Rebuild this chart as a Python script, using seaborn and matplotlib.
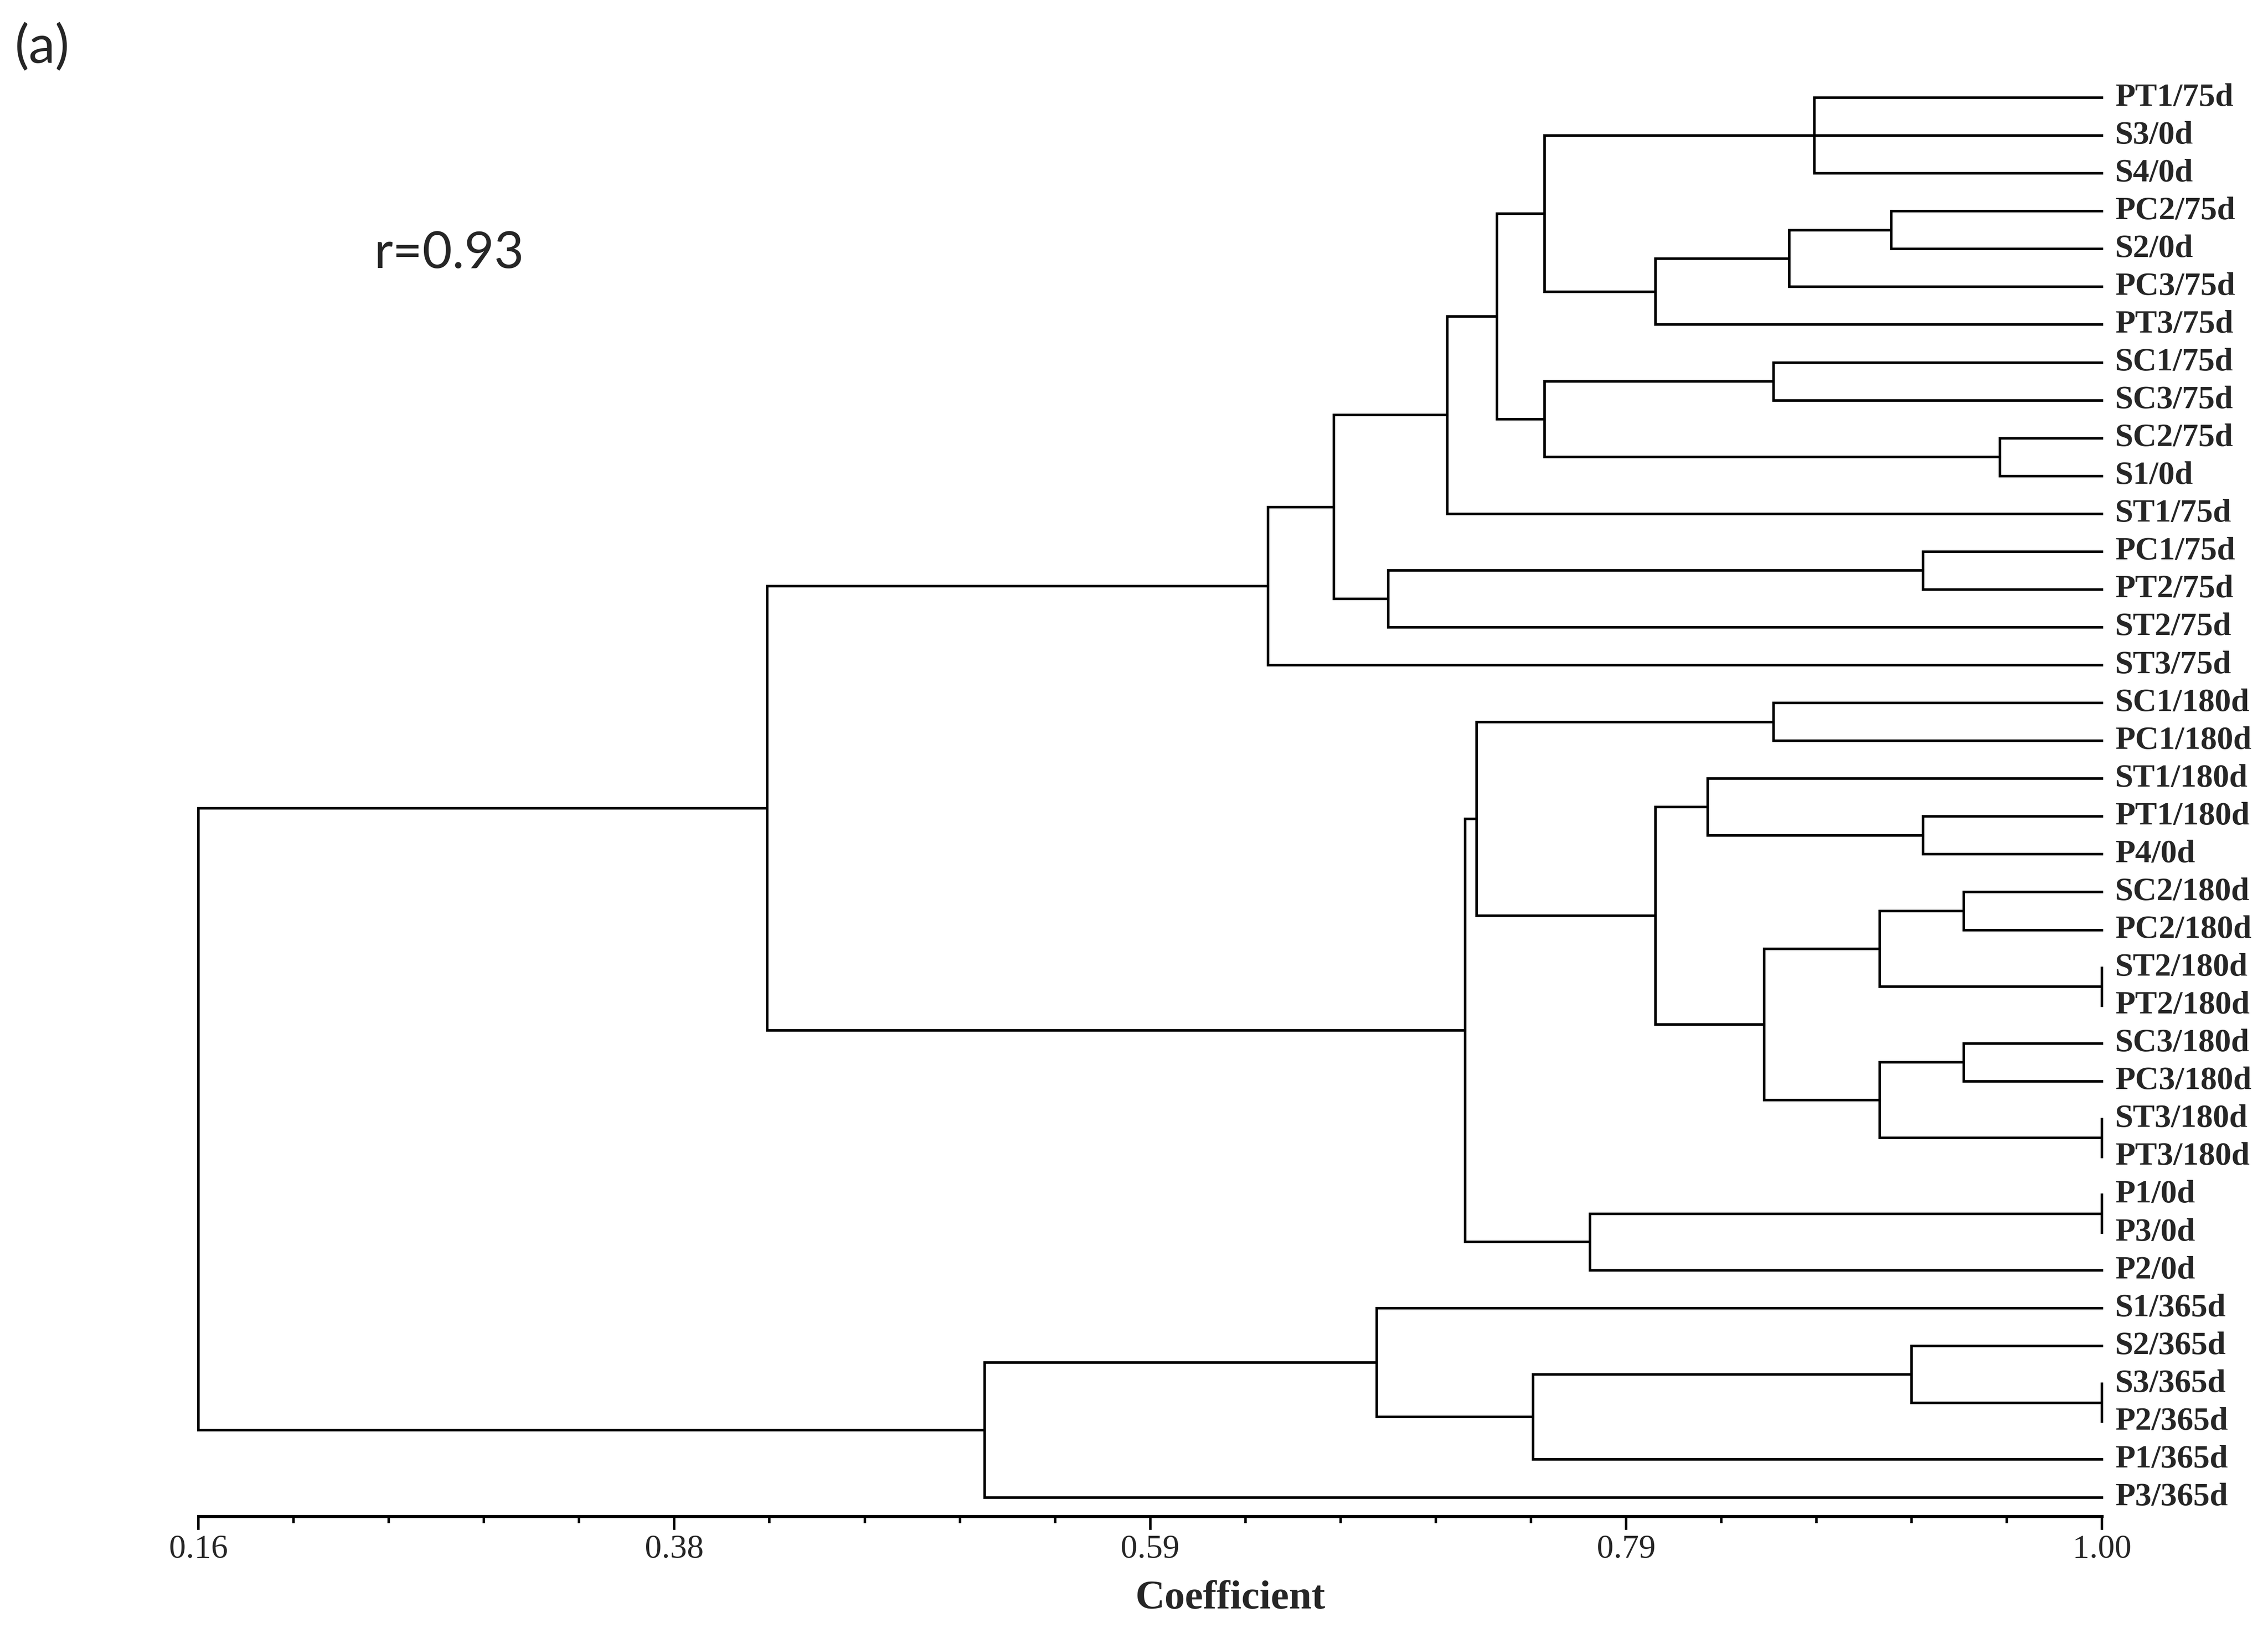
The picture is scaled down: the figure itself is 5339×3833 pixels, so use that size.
import matplotlib
matplotlib.use("Agg")
import matplotlib.pyplot as plt
from matplotlib.ticker import FixedLocator, AutoMinorLocator
import pandas as pd
import seaborn as sns

# leaves from top to bottom
leaves = ["PT1/75d", "S3/0d", "S4/0d", "PC2/75d", "S2/0d", "PC3/75d", "PT3/75d",
          "SC1/75d", "SC3/75d", "SC2/75d", "S1/0d", "ST1/75d", "PC1/75d", "PT2/75d",
          "ST2/75d", "ST3/75d", "SC1/180d", "PC1/180d", "ST1/180d", "PT1/180d",
          "P4/0d", "SC2/180d", "PC2/180d", "ST2/180d", "PT2/180d", "SC3/180d",
          "PC3/180d", "ST3/180d", "PT3/180d", "P1/0d", "P3/0d", "P2/0d",
          "S1/365d", "S2/365d", "S3/365d", "P2/365d", "P1/365d", "P3/365d"]

# merges: children (leaf index, or 38 + merge index) and similarity coefficient
merge_children = [[0, 1, 2], [3, 4], [39, 5], [40, 6], [38, 41],
                  [7, 8], [9, 10], [43, 44], [42, 45], [46, 11],
                  [12, 13], [48, 14], [47, 49], [50, 15],
                  [16, 17], [19, 20], [18, 53], [21, 22], [23, 24], [55, 56],
                  [25, 26], [27, 28], [58, 59], [57, 60], [54, 61], [52, 62],
                  [29, 30], [64, 31], [63, 65], [51, 66],
                  [34, 35], [33, 68], [69, 36], [32, 70], [71, 37], [67, 72]]
merge_heights = [0.873, 0.907, 0.862, 0.803, 0.754,
                 0.855, 0.955, 0.754, 0.733, 0.711,
                 0.921, 0.685, 0.661, 0.632,
                 0.855, 0.921, 0.826, 0.939, 1.00, 0.902,
                 0.939, 1.00, 0.902, 0.851, 0.803, 0.724,
                 1.00, 0.774, 0.719, 0.411,
                 1.00, 0.916, 0.749, 0.680, 0.507, 0.16]

tick_values = [0.16, 0.37, 0.58, 0.79, 1.00]
tick_labels = ["0.16", "0.38", "0.59", "0.79", "1.00"]

# build dendrogram segments
n = len(leaves)
pos_y = {i: i for i in range(n)}
pos_x = {i: 1.0 for i in range(n)}
rows = []
seg = 0
for k, (ch, h) in enumerate(zip(merge_children, merge_heights)):
    ys = [pos_y[c] for c in ch]
    rows += [(seg, h, min(ys)), (seg, h, max(ys))]
    seg += 1
    for c in ch:
        if pos_x[c] != h:
            rows += [(seg, h, pos_y[c]), (seg, pos_x[c], pos_y[c])]
            seg += 1
    pos_y[n + k] = (min(ys) + max(ys)) / 2
    pos_x[n + k] = h
df = pd.DataFrame(rows, columns=["seg", "x", "y"])

sns.set_style("ticks")
fig = plt.figure(figsize=(5339 / 300, 3833 / 300), dpi=300)
ax = fig.add_axes([0.0875, 0.0686, 0.8393, 0.883])

sns.lineplot(data=df, x="x", y="y", units="seg", estimator=None, sort=False,
             color="black", linewidth=1.45, ax=ax)
for line in ax.lines:
    line.set_clip_on(False)
    line.set_solid_capstyle("projecting")

for i, name in enumerate(leaves):
    ax.annotate(name, (1.0, i), xytext=(7.5, 0), textcoords="offset points",
                ha="left", va="center", fontsize=18.5, fontweight="bold",
                family="Liberation Serif", annotation_clip=False)

ax.set_xlim(0.16, 1.00)
ax.set_ylim(n - 0.5, -0.5)
ax.set_yticks([])
ax.set_xlabel("")
ax.set_ylabel("")
for s in ["left", "top", "right"]:
    ax.spines[s].set_visible(False)
ax.spines["bottom"].set_linewidth(1.7)
ax.spines["bottom"].set_color("black")

ax.xaxis.set_major_locator(FixedLocator(tick_values))
ax.set_xticklabels(tick_labels, family="Liberation Serif", fontsize=19)
ax.xaxis.set_minor_locator(AutoMinorLocator(5))
ax.tick_params(axis="x", which="major", length=7.7, width=1.4, color="black", pad=2.5)
ax.tick_params(axis="x", which="minor", length=3.8, width=1.4, color="black")

fig.text(0.5424, 0.018, "Coefficient", ha="center", va="center",
         fontsize=23, fontweight="bold", family="Liberation Serif")
fig.text(0.165, 0.844, "r=0.93", ha="left", va="center", fontsize=29, family="Lato")
fig.text(0.0064, 0.971, "(a)", ha="left", va="center", fontsize=30, family="Lato")

fig.savefig("out.png", dpi=300)
